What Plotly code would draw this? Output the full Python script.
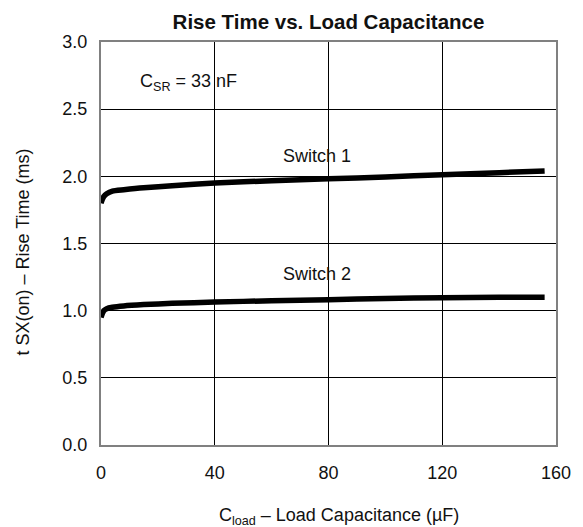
import plotly.graph_objects as go

# Data
cload_uF = [0, 0.5, 1, 2, 4, 8, 15, 25, 40, 60, 80, 100, 120, 140, 156]
switch1_ms = [1.80, 1.83, 1.85, 1.87, 1.89, 1.90, 1.915, 1.93, 1.95, 1.967, 1.982, 1.995, 2.012, 2.027, 2.04]
switch2_ms = [0.95, 0.98, 1.00, 1.015, 1.025, 1.035, 1.045, 1.055, 1.064, 1.074, 1.082, 1.09, 1.097, 1.099, 1.10]

x_ticks = [0, 40, 80, 120, 160]
y_ticks = [0.0, 0.5, 1.0, 1.5, 2.0, 2.5, 3.0]

FONT = "Liberation Sans, Arial, Helvetica, sans-serif"

# the page body adds an 8px offset, so the figure is 8px smaller
W, H = 575, 519
L, R, T, B = 93, 18, 34, 82
PW, PH = W - L - R, H - T - B

fig = go.Figure()
for ys in (switch1_ms, switch2_ms):
    fig.add_trace(go.Scatter(
        x=cload_uF, y=ys, mode="lines",
        line=dict(color="black", width=5.5, shape="spline", smoothing=0.6),
        showlegend=False, hoverinfo="skip",
    ))

fig.add_annotation(x=76, y=2.15, xref="x", yref="y", text="Switch 1",
                   showarrow=False, font=dict(size=18, color="#111", family=FONT))
fig.add_annotation(x=76, y=1.27, xref="x", yref="y", text="Switch 2",
                   showarrow=False, font=dict(size=18, color="#111", family=FONT))
fig.add_annotation(x=13, y=2.70, xref="x", yref="y", xanchor="left",
                   text="C<sub>SR</sub> = 33 nF",
                   showarrow=False, font=dict(size=18, color="#111", family=FONT))

# x-axis title
fig.add_annotation(x=(344 - 101) / PW, y=-71 / PH, xref="paper", yref="paper",
                   yanchor="middle", xanchor="center",
                   text="C<sub>load</sub> – Load Capacitance (µF)",
                   showarrow=False, font=dict(size=18, color="#111", family=FONT))
# y-axis title
fig.add_annotation(x=(21 - 101) / PW, y=(445 - 252) / PH, xref="paper", yref="paper",
                   xanchor="center", yanchor="middle", textangle=-90,
                   text="t SX(on) – Rise Time (ms)",
                   showarrow=False, font=dict(size=18, color="#111", family=FONT))

fig.update_layout(
    width=W, height=H,
    margin=dict(l=L, r=R, t=T, b=B),
    paper_bgcolor="white", plot_bgcolor="white",
    font=dict(family=FONT, size=18, color="#111"),
    title=dict(text="<b>Rise Time vs. Load Capacitance</b>",
               x=0.5, xref="paper", xanchor="center",
               y=1 - 13.7 / H, yanchor="middle", yref="container",
               font=dict(size=20.5, color="#111", family=FONT)),
)
fig.update_xaxes(range=[0, 160], tickvals=x_ticks, ticktext=[str(v) for v in x_ticks],
                 showgrid=True, gridcolor="black", gridwidth=1,
                 showline=True, linecolor="#808080", linewidth=2, mirror=True,
                 zeroline=False, ticks="", ticklabelstandoff=10,
                 tickfont=dict(size=18, family=FONT, color="#111"))
fig.update_yaxes(range=[0, 3], tickvals=y_ticks, ticktext=[f"{v:.1f}" for v in y_ticks],
                 showgrid=True, gridcolor="black", gridwidth=1,
                 showline=True, linecolor="#808080", linewidth=2, mirror=True,
                 zeroline=False, ticks="", ticklabelstandoff=8,
                 tickfont=dict(size=18, family=FONT, color="#111"))

fig.write_html("out.html")
